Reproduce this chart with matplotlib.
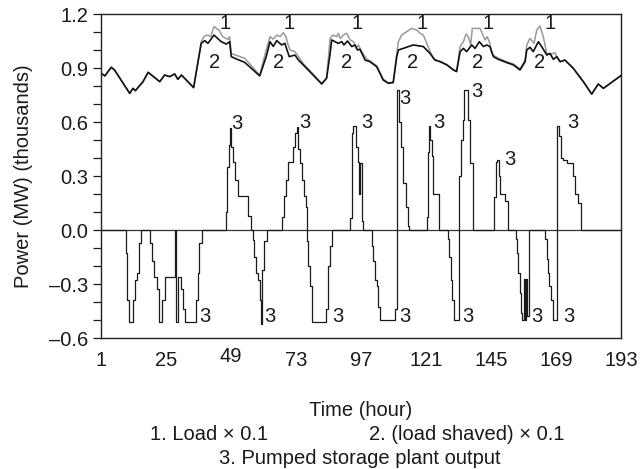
import matplotlib
matplotlib.use("Agg")
import matplotlib.pyplot as plt
from matplotlib.transforms import ScaledTranslation

plt.rcParams['font.family'] = ['Liberation Sans', 'DejaVu Sans']

# ---- data ----
shaved_h = [1, 2.4, 4.8, 6.0, 11.6, 12.8, 13.7, 16.5, 18.4, 22.7, 24.5, 26.4, 28.2, 29.4, 30.7, 35.2,
            38.0, 39.3, 40.5, 42.7, 45.4, 47.3, 48.5, 49.1, 51.0, 54.1, 59.6, 62.0, 63.4, 64.6, 65.9,
            67.7, 68.9, 69.6, 70.5, 72.6, 73.9, 75.7, 82.5, 84.3, 85.6, 86.2, 87.4, 88.6, 89.9, 90.7,
            92.0, 93.6, 94.8, 95.7, 96.6, 97.9, 98.5, 100.3, 102.8, 105.2, 107.1, 108.9, 110.2, 110.8,
            112.6, 116.3, 120.0, 122.5, 124.3, 126.2, 128.7, 131.1, 132.3, 133.6, 134.8, 136.0, 137.9,
            139.1, 140.7, 142.2, 143.4, 144.6, 145.9, 147.7, 150.8, 153.3, 155.7, 157.6, 158.2, 159.4,
            160.6, 162.5, 163.7, 165.6, 166.8, 168.0, 169.3, 170.5, 172.3, 175.4, 179.1, 182.2, 184.6,
            186.5, 193]
shaved_v = [0.871, 0.856, 0.904, 0.889, 0.759, 0.787, 0.774, 0.824, 0.876, 0.824, 0.861, 0.852, 0.867,
            0.837, 0.861, 0.791, 1.037, 1.052, 1.037, 1.083, 1.046, 1.033, 1.046, 0.963, 0.950, 0.931,
            0.856, 0.963, 1.046, 1.020, 1.052, 1.028, 1.037, 1.004, 0.963, 0.972, 0.944, 0.917, 0.811,
            0.843, 0.981, 1.056, 1.046, 1.037, 1.046, 1.028, 1.050, 1.019, 1.028, 1.000, 1.004, 0.963,
            0.944, 0.935, 0.907, 0.833, 0.815, 0.819, 0.963, 1.000, 1.009, 1.028, 1.019, 0.981, 0.944,
            0.935, 0.917, 0.889, 0.880, 0.991, 1.009, 0.991, 1.028, 1.009, 1.046, 1.019, 1.028, 1.019,
            0.963, 0.948, 0.930, 0.917, 0.889, 0.935, 1.000, 1.015, 0.991, 1.046, 1.019, 0.972, 0.981,
            0.948, 0.963, 0.935, 0.944, 0.898, 0.824, 0.755, 0.811, 0.787, 0.858]

load_h = [1, 2.4, 4.8, 6.0, 11.6, 12.8, 13.7, 16.5, 18.4, 22.7, 24.5, 26.4, 28.2, 29.4, 30.7, 35.2,
          38.0, 38.7, 39.3, 40.5, 41.5, 42.7, 44.5, 46.0, 47.9, 48.5, 49.1, 51.0, 54.1, 59.6, 62.0,
          63.4, 64.6, 65.9, 67.1, 68.3, 69.3, 69.9, 70.8, 72.6, 74.5, 75.7, 82.5, 84.3, 85.6, 86.6,
          88.0, 88.6, 89.3, 90.5, 91.7, 93.0, 94.2, 95.2, 96.0, 97.3, 99.1, 100.3, 102.8, 105.2, 107.1,
          108.9, 110.2, 110.8, 112.0, 113.9, 115.7, 117.6, 118.8, 120.0, 121.3, 122.5, 123.7, 124.9,
          126.2, 128.7, 131.1, 132.3, 133.6, 134.8, 135.8, 136.6, 137.5, 138.1, 140.9, 141.5, 142.8,
          143.6, 144.6, 145.3, 145.9, 147.7, 150.8, 153.3, 155.7, 157.6, 158.2, 159.4, 160.9, 161.9,
          163.1, 164.3, 165.6, 166.8, 168.6, 169.3, 170.5, 172.3, 175.4, 179.1, 182.2, 184.6, 186.5, 193]
load_v = [0.871, 0.856, 0.904, 0.889, 0.759, 0.787, 0.774, 0.824, 0.876, 0.824, 0.861, 0.852, 0.867,
          0.837, 0.861, 0.791, 1.045, 1.065, 1.078, 1.083, 1.074, 1.130, 1.111, 1.074, 1.059, 1.074,
          0.981, 0.970, 0.954, 0.860, 1.000, 1.074, 1.060, 1.083, 1.074, 1.096, 1.074, 1.037, 1.000,
          0.991, 0.950, 0.925, 0.815, 0.845, 1.065, 1.083, 1.074, 1.093, 1.065, 1.083, 1.093, 1.056,
          1.046, 1.009, 1.028, 0.991, 0.950, 0.940, 0.912, 0.838, 0.818, 0.822, 0.975, 1.046, 1.083,
          1.102, 1.120, 1.111, 1.093, 1.083, 1.037, 0.991, 0.954, 0.944, 0.938, 0.920, 0.892, 0.883,
          1.019, 1.046, 1.089, 1.074, 1.028, 1.120, 1.120, 1.102, 1.056, 1.074, 1.037, 0.981, 0.970,
          0.955, 0.935, 0.922, 0.895, 0.945, 1.028, 1.065, 1.037, 1.111, 1.133, 1.074, 0.981, 0.975,
          0.985, 0.963, 0.935, 0.944, 0.898, 0.824, 0.755, 0.811, 0.787, 0.858]

# pumped storage output: value holds from each hour until the next one
pump_h = [1, 10.2, 10.7, 11.5, 12.7, 13.5, 14.2, 15.0, 15.7, 19.2, 19.7, 20.5, 21.5, 22.5, 23.7, 24.5,
          28.3, 28.7, 29.5, 30.7, 31.3, 32.0, 36.0, 36.7, 37.3, 38.2,
          47.0, 47.6, 48.2, 48.7, 49.1, 49.7, 50.6, 51.6, 55.2, 56.2,
          57.0, 57.5, 58.2, 59.0, 59.6, 60.1, 60.5, 61.3, 62.3,
          67.7, 68.5, 69.3, 70.1, 72.0, 72.6, 73.3, 73.7, 74.3, 75.1, 76.0, 76.6,
          77.0, 77.6, 78.2, 78.8, 84.1, 84.7, 85.4, 86.2,
          92.9, 93.5, 94.0, 95.2, 95.8, 96.3, 96.8, 97.3, 97.9,
          101.0, 101.6, 102.2, 102.8, 103.4, 104.0, 109.5, 110.2, 111.2, 111.9, 112.6, 113.5, 114.3, 114.9,
          121.3, 121.6, 122.1, 122.6, 123.1, 123.7, 125.8,
          129.0, 129.6, 130.2, 130.6, 131.3, 133.3, 134.0, 134.6, 135.2, 136.6, 137.4, 138.4,
          146.2, 146.7, 147.2, 147.8, 148.5, 150.3, 151.2,
          154.1, 154.6, 155.1, 155.6, 156.1, 156.6, 157.0, 157.4, 157.8, 158.2, 159.2,
          165.0, 165.5, 166.0, 166.6, 167.3, 168.0, 169.5, 170.2, 170.7, 171.7, 173.0, 175.2, 176.0,
          177.3, 178.1, 193]
pump_v = [0, -0.13, -0.39, -0.51, -0.39, -0.28, -0.24, -0.07, 0, -0.07, -0.17, -0.26, -0.33, -0.51,
          -0.39, -0.26, 0, -0.51, -0.26, -0.33, -0.44, -0.51, -0.39, -0.24, -0.07, 0,
          0.10, 0.35, 0.47, 0.565, 0.46, 0.38, 0.28, 0.19, 0.08, 0,
          -0.055, -0.15, -0.24, -0.28, -0.39, -0.52, -0.22, -0.06, 0,
          0.07, 0.19, 0.28, 0.38, 0.46, 0.54, 0.57, 0.45, 0.37, 0.28, 0.19, 0.13,
          -0.06, -0.2, -0.31, -0.51, -0.44, -0.2, -0.09, 0,
          0.065, 0.54, 0.575, 0.46, 0.38, 0.2, 0.37, 0.05, 0,
          -0.09, -0.17, -0.28, -0.31, -0.43, -0.5, -0.44, 0.78, 0.60, 0.46, 0.26, 0.13, 0.02, 0,
          0.07, 0.435, 0.58, 0.50, 0.41, 0.2, 0,
          -0.05, -0.15, -0.28, -0.39, -0.5, 0.3, 0.5, 0.61, 0.78, 0.61, 0.37, 0,
          0.185, 0.38, 0.39, 0.3, 0.2, 0.16, 0,
          -0.05, -0.13, -0.24, -0.35, -0.46, -0.5, -0.27, -0.5, -0.27, -0.48, 0,
          -0.05, -0.16, -0.24, -0.31, -0.39, -0.5, 0.58, 0.52, 0.40, 0.39, 0.37, 0.3, 0.2,
          0.15, 0, 0]

label1_h = [46.8, 70.5, 95.4, 119.4, 144.0, 166.8]
label2_h = [42.8, 66.5, 91.7, 116.1, 140.0, 163.1]
label3_pos = [(51.1, 0.593), (76.3, 0.596), (99.1, 0.60), (113.3, 0.73), (125.9, 0.60),
              (139.7, 0.77), (151.8, 0.39), (175.2, 0.60),
              (39.4, -0.48), (63.4, -0.48), (88.6, -0.48), (113.3, -0.48), (136.6, -0.48),
              (161.9, -0.48), (173.6, -0.48)]

xticks = [1, 25, 49, 73, 97, 121, 145, 169, 193]
yticks = [-0.6, -0.3, 0.0, 0.3, 0.6, 0.9, 1.2]
ytick_labels = ["\u20130.6", "\u20130.3", "0.0", "0.3", "0.6", "0.9", "1.2"]

# ---- figure ----
fig = plt.figure(figsize=(6.41, 4.69), dpi=100)
ax = fig.add_axes([101/641, 1 - 338/469, 520/641, 324/469])

fs = 14.5
ink = "#1a1a1a"

ax.axhline(0, color="#333333", lw=0.9, zorder=1)
ax.plot(pump_h, pump_v, drawstyle="steps-post", color=ink, lw=0.9, zorder=2)
ax.plot(load_h, load_v, color="#9a9a9a", lw=1.1, zorder=3)
ax.plot(shaved_h, shaved_v, color="#111111", lw=1.2, zorder=4)

for h in label1_h:
    ax.text(h, 1.15, "1", fontsize=fs, ha="center", va="center", color=ink)
for h in label2_h:
    ax.text(h, 0.93, "2", fontsize=fs, ha="center", va="center", color=ink)
for h, v in label3_pos:
    ax.text(h, v, "3", fontsize=fs, ha="center", va="center", color=ink)

ax.set_xlim(1, 193)
ax.set_ylim(-0.6, 1.2)
ax.set_xticks(xticks)
ax.set_xticklabels([str(t) for t in xticks])
ax.set_yticks(yticks)
ax.set_yticklabels(ytick_labels)
ax.set_yticks([v / 10 for v in range(-6, 13)], minor=True)
ax.tick_params(axis="x", length=0, pad=9, labelsize=fs, colors=ink)
ax.tick_params(axis="y", which="both", direction="out", length=6, width=0.9,
               labelsize=fs, colors=ink, pad=3)
for s in ax.spines.values():
    s.set_linewidth(1.0)
    s.set_color("#222222")

# the "49" label sits slightly higher in the reference
lab49 = ax.get_xticklabels()[2]
lab49.set_transform(lab49.get_transform() + ScaledTranslation(0, 3 / 100, fig.dpi_scale_trans))

ax.set_ylabel("Power (MW) (thousands)", fontsize=fs, color=ink, labelpad=12)

fig.text(361/641, 1 - 410/469, "Time (hour)", fontsize=fs, ha="center", va="center", color=ink)
fig.text(209/641, 1 - 435/469, "1. Load \u00d7 0.1", fontsize=fs, ha="center", va="center", color=ink)
fig.text(467/641, 1 - 435/469, "2. (load shaved) \u00d7 0.1", fontsize=fs, ha="center", va="center", color=ink)
fig.text(360/641, 1 - 458/469, "3. Pumped storage plant output", fontsize=fs, ha="center", va="center", color=ink)

fig.savefig("out.png", dpi=100)
